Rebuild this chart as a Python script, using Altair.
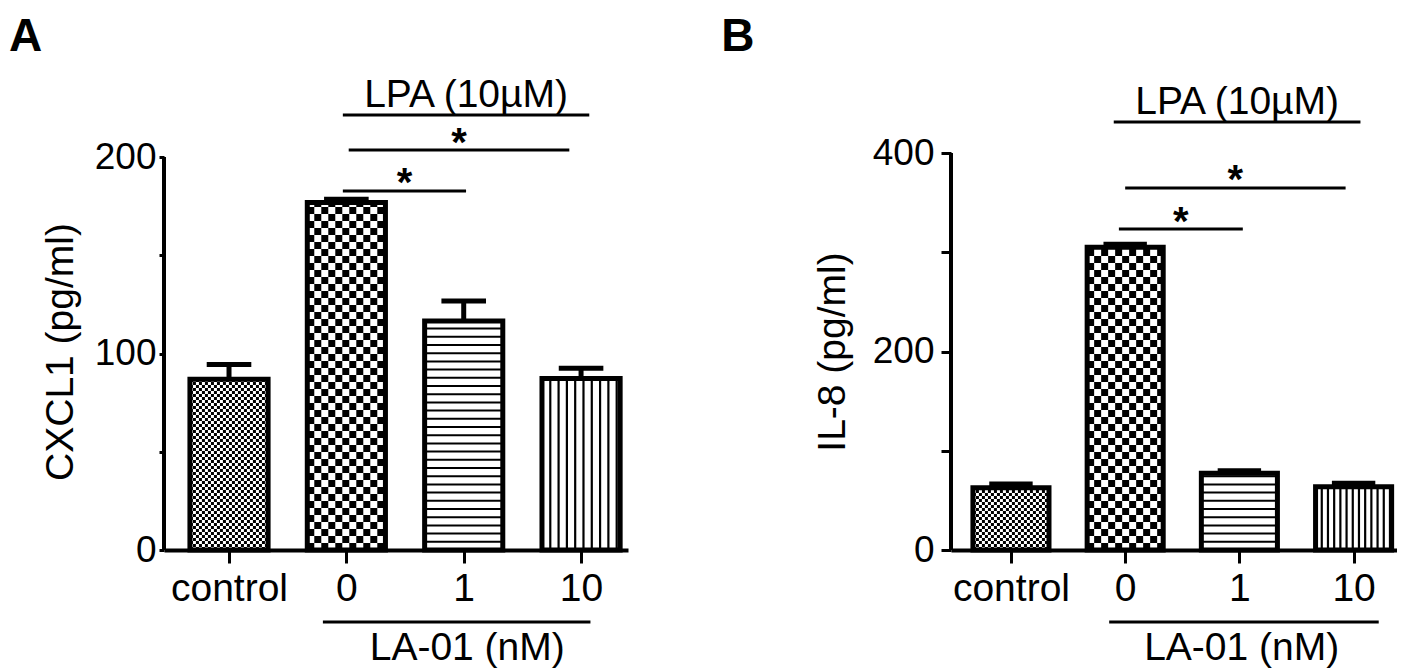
import json
import altair as alt
import pandas as pd

FONT = "Liberation Sans"

# ---------------- data ----------------
groups = ["control", "0", "1", "10"]
positions = [1, 2, 3, 4]
fill_patterns = ["fine", "coarse", "hstripe", "vstripe"]

cxcl1_mean = [86.9, 176.8, 116.5, 87.3]
cxcl1_err = [7.5, 1.7, 10.2, 5.2]

il8_mean = [62.7, 305.0, 77.4, 63.7]
il8_err = [3.8, 3.0, 2.4, 3.6]

# panel A annotations (data units)
a_lpa_x = [1.97, 4.07]
a_lpa_y = 221.4
a_lpa_text_y = 225.2
a_sig_x0 = [2.02, 1.97]
a_sig_x1 = [3.90, 3.02]
a_sig_y = [203.6, 182.7]
a_star_y = [200.5, 180.2]
a_la_x = [1.80, 4.08]
a_la_y = -36.6
a_la_text_x = 3.03
a_la_text_y = -56.0
a_letter_xy = [-0.875, 253.9]

# panel B annotations (data units)
b_lpa_x = [1.90, 4.06]
b_lpa_y = 431.2
b_lpa_text_y = 439.3
b_sig_x0 = [2.00, 1.945]
b_sig_x1 = [3.93, 3.03]
b_sig_y = [364.7, 323.4]
b_star_y = [359.7, 317.4]
b_la_x = [1.86, 4.22]
b_la_y = -72.5
b_la_text_x = 3.02
b_la_text_y = -110.8
b_letter_xy = [-1.537, 502.8]

LPA_TEXT = "LPA (10\u00b5M)"
LA_TEXT = "LA-01 (nM)"

HW = 0.333      # half bar width (x units)
CAP = 0.19      # half error cap width (x units)


def panel(letter, letter_xy, means, errs, ytitle, ydom_top, yvals, ymajor, height,
          xdom, width, tick_y, lab_pad_y, title_pad, vsp,
          lpa_x, lpa_y, lpa_text_y, sig_x0, sig_x1, sig_y, star_y,
          la_x, la_y, la_text_x, la_text_y):
    kx = (xdom[1] - xdom[0]) / width
    ky = ydom_top / height

    df = pd.DataFrame({"group": groups, "pos": positions, "mean": means,
                       "err": errs, "pattern": fill_patterns})
    base = alt.Chart(df)

    xs = alt.Scale(domain=xdom, nice=False, zero=False)
    ys = alt.Scale(domain=[0, ydom_top], nice=False, zero=False)
    xaxis = alt.Axis(values=positions,
                     labelExpr=json.dumps(groups) + "[datum.value - 1]",
                     title=None, grid=False, tickSize=13, tickWidth=3,
                     domainWidth=4, domainColor="black", tickColor="black",
                     labelFontSize=39, labelColor="black", labelPadding=6,
                     labelFont=FONT, labelFlush=False, labelOverlap=False)
    yaxis = alt.Axis(values=yvals,
                     labelExpr=f"datum.value % {ymajor} == 0 ? datum.label : ''",
                     title=ytitle, grid=False, domain=False,
                     tickSize=tick_y, tickWidth=3, tickColor="black",
                     labelFontSize=37, labelColor="black", labelPadding=lab_pad_y,
                     labelFont=FONT, titleFont=FONT, titleFontSize=39,
                     titleFontWeight="normal", titleColor="black",
                     titlePadding=title_pad, labelOverlap=False)

    def X(f):
        return alt.X(f, type="quantitative", scale=xs, axis=xaxis)

    def Y(f):
        return alt.Y(f, type="quantitative", scale=ys, axis=yaxis)

    # checkerboard fills
    checker = base.transform_filter(
        "datum.pattern == 'fine' || datum.pattern == 'coarse'"
    ).transform_calculate(
        cs="datum.pattern == 'fine' ? 3 : 7"
    ).transform_calculate(
        cw=f"datum.cs * {kx}",
        ch=f"datum.cs * {ky}",
    ).transform_calculate(
        rows="sequence(0, ceil(datum.mean / datum.ch))",
        cols=f"sequence(0, ceil({2 * HW} / datum.cw))",
    ).transform_flatten(["rows"]).transform_flatten(["cols"]).transform_filter(
        "(datum.rows + datum.cols) % 2 == 0"
    ).transform_calculate(
        cx0=f"datum.pos - {HW} + datum.cols * datum.cw",
        cx1=f"min(datum.pos - {HW} + (datum.cols + 1) * datum.cw, datum.pos + {HW})",
        cy0="datum.rows * datum.ch",
        cy1="min((datum.rows + 1) * datum.ch, datum.mean)",
    ).mark_rect(color="black", strokeWidth=0).encode(
        x=X("cx0"), x2="cx1", y=Y("cy0"), y2="cy1"
    )

    # horizontal stripes
    hsp = 8.2
    hstripe = base.transform_filter("datum.pattern == 'hstripe'").transform_calculate(
        rows=f"sequence(1, ceil(datum.mean / ({hsp} * {ky})))"
    ).transform_flatten(["rows"]).transform_calculate(
        sy=f"datum.rows * {hsp} * {ky}",
        sx0=f"datum.pos - {HW}",
        sx1=f"datum.pos + {HW}",
    ).transform_filter("datum.sy < datum.mean").mark_rule(
        color="black", strokeWidth=2
    ).encode(x=X("sx0"), x2="sx1", y=Y("sy"))

    # vertical stripes
    vstripe = base.transform_filter("datum.pattern == 'vstripe'").transform_calculate(
        cols=f"sequence(1, ceil({2 * HW} / ({vsp} * {kx})))"
    ).transform_flatten(["cols"]).transform_calculate(
        vx=f"datum.pos - {HW} + datum.cols * {vsp} * {kx}",
        vy0="0",
    ).transform_filter(f"datum.vx < datum.pos + {HW} - 0.01").mark_rule(
        color="black", strokeWidth=2.2
    ).encode(x=X("vx"), y=Y("vy0"), y2="mean")

    # bar outlines
    outline = base.transform_calculate(
        bx0=f"datum.pos - {HW}", bx1=f"datum.pos + {HW}", by0="0"
    ).mark_rect(fillOpacity=0, stroke="black", strokeWidth=5).encode(
        x=X("bx0"), x2="bx1", y=Y("by0"), y2="mean"
    )

    # error bars (upper only)
    errline = base.transform_calculate(top="datum.mean + datum.err").mark_rule(
        color="black", strokeWidth=5
    ).encode(x=X("pos"), y=Y("mean"), y2="top")
    errcap = base.transform_calculate(
        top="datum.mean + datum.err",
        c0=f"datum.pos - {CAP}", c1=f"datum.pos + {CAP}",
    ).mark_rule(color="black", strokeWidth=5).encode(x=X("c0"), x2="c1", y=Y("top"))

    # y axis line from 0 to the top tick
    yline_df = pd.DataFrame({"x": [xdom[0]], "y0": [0], "y1": [yvals[-1]]})
    yline = alt.Chart(yline_df).mark_rule(color="black", strokeWidth=4).encode(
        x=X("x"), y=Y("y0"), y2="y1"
    )

    # annotation lines
    lines_df = pd.DataFrame({
        "x0": [lpa_x[0]] + list(sig_x0) + [la_x[0]],
        "x1": [lpa_x[1]] + list(sig_x1) + [la_x[1]],
        "y": [lpa_y] + list(sig_y) + [la_y],
    })
    ann_lines = alt.Chart(lines_df).mark_rule(color="black", strokeWidth=3).encode(
        x=X("x0"), x2="x1", y=Y("y")
    )

    stars_df = pd.DataFrame({
        "x": [(a + b) / 2 for a, b in zip(sig_x0, sig_x1)],
        "y": list(star_y),
        "t": ["*", "*"],
    })
    stars = alt.Chart(stars_df).mark_text(
        font=FONT, fontSize=40, fontWeight="bold", align="center",
        baseline="alphabetic", color="black"
    ).encode(x=X("x"), y=Y("y"), text="t:N")

    labels_df = pd.DataFrame({
        "x": [(lpa_x[0] + lpa_x[1]) / 2, la_text_x],
        "y": [lpa_text_y, la_text_y],
        "t": [LPA_TEXT, LA_TEXT],
    })
    labels = alt.Chart(labels_df).mark_text(
        font=FONT, fontSize=39, align="center", baseline="alphabetic", color="black"
    ).encode(x=X("x"), y=Y("y"), text="t:N")

    letter_df = pd.DataFrame({"x": [letter_xy[0]], "y": [letter_xy[1]], "t": [letter]})
    letter_mark = alt.Chart(letter_df).mark_text(
        font=FONT, fontSize=46, fontWeight="bold", align="left",
        baseline="alphabetic", color="black"
    ).encode(x=X("x"), y=Y("y"), text="t:N")

    return alt.layer(
        checker, hstripe, vstripe, outline, errline, errcap, yline,
        ann_lines, stars, labels, letter_mark
    ).properties(width=width, height=height)


panel_a = panel("A", a_letter_xy, cxcl1_mean, cxcl1_err, "CXCL1 (pg/ml)", 202.04,
                [0, 50, 100, 150, 200], 100, 397, [0.446, 4.40], 464,
                5, 3, 14, 8.3,
                a_lpa_x, a_lpa_y, a_lpa_text_y, a_sig_x0, a_sig_x1, a_sig_y, a_star_y,
                a_la_x, a_la_y, a_la_text_x, a_la_text_y)

panel_b = panel("B", b_letter_xy, il8_mean, il8_err, "IL-8 (pg/ml)", 400,
                [0, 100, 200, 300, 400], 200, 397, [0.475, 4.38], 446,
                10, 7, 20, 6.2,
                b_lpa_x, b_lpa_y, b_lpa_text_y, b_sig_x0, b_sig_x1, b_sig_y, b_star_y,
                b_la_x, b_la_y, b_la_text_x, b_la_text_y)

chart = alt.hconcat(panel_a, panel_b, spacing=93).properties(
    padding={"top": 5, "left": 0, "right": 0, "bottom": 0}
).configure(font=FONT).configure_view(strokeWidth=0)

chart.save("out.html", embed_options={"renderer": "svg", "actions": False})
